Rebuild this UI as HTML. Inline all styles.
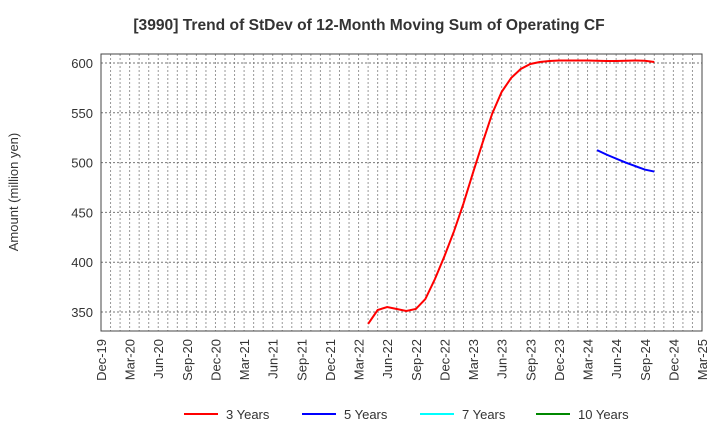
<!DOCTYPE html>
<html><head><meta charset="utf-8"><style>
body{margin:0;background:#fff;font-family:"Liberation Sans",sans-serif;}
</style></head><body>
<svg id="c" width="720" height="440" xmlns="http://www.w3.org/2000/svg" font-family="Liberation Sans, sans-serif">
<text x="369" y="30" text-anchor="middle" font-size="15.6" font-weight="bold" fill="#333">[3990]  Trend of StDev of 12-Month Moving Sum of Operating CF</text>
<text transform="translate(18,192) rotate(-90)" text-anchor="middle" font-size="13" fill="#333">Amount (million yen)</text>
<g id="grid"></g><g id="series"></g>
<rect x="101" y="54" width="601" height="277" fill="none" stroke="#444" stroke-width="1"/>
<g id="legend"></g>
</svg>
<script>
const xLabels=["Dec-19","Mar-20","Jun-20","Sep-20","Dec-20","Mar-21","Jun-21","Sep-21","Dec-21","Mar-22","Jun-22","Sep-22","Dec-22","Mar-23","Jun-23","Sep-23","Dec-23","Mar-24","Jun-24","Sep-24","Dec-24","Mar-25"];
const yTicks=[350,400,450,500,550,600];
const red3Start=28;
const red3=[338,352,355,353,351,353,363,383,406,431,459,490,520,549,571,585,594,599,601,602,602.5,602.5,602.5,602.5,602.3,602,602,602.3,602.5,602.3,601];
const blue5Start=52;
const blue5=[512.5,508,504,500,496.5,493,491];
const NS="http://www.w3.org/2000/svg";
const L=101,R=702,T=54,B=331,months=63;
const X=m=>L+(R-L)*m/months;
const Y=v=>63+(600-v)*0.996;
function mk(t,a,p){const e=document.createElementNS(NS,t);for(const k in a)e.setAttribute(k,a[k]);p.appendChild(e);return e;}
const g=document.getElementById('grid');
for(let m=1;m<months;m++){const l=mk('line',{x1:X(m),x2:X(m),y1:T,y2:B,stroke:'#999','stroke-dasharray':'2,2','stroke-width':1},g);

}
yTicks.forEach(v=>{const l=mk('line',{x1:L,x2:R,y1:Y(v),y2:Y(v),stroke:'#777','stroke-dasharray':'2,2','stroke-width':1},g);


const t=mk('text',{x:L-8,y:Y(v)+5,'text-anchor':'end','font-size':13,fill:'#333'},g);t.textContent=v;

});
xLabels.forEach((s,i)=>{const x=X(i*3);const t=mk('text',{transform:`translate(${x+5},${B+8}) rotate(-90)`,'text-anchor':'end','font-size':13,fill:'#333'},g);t.textContent=s;

});
const s=document.getElementById('series');
function line(arr,st,col,name){const p=mk('polyline',{points:arr.map((v,i)=>X(st+i)+','+Y(v)).join(' '),fill:'none',stroke:col,'stroke-width':2},s);

}
line(red3,red3Start,'#f00','series-3-years');
line(blue5,blue5Start,'#00f','series-5-years');
const lg=document.getElementById('legend');
[["3 Years","#f00",184],["5 Years","#00f",302],["7 Years","#0ff",420],["10 Years","#080",536]].forEach(([n,c,x])=>{
const gg=mk('g',{},lg);


mk('line',{x1:x,x2:x+34,y1:414,y2:414,stroke:c,'stroke-width':2},gg);
const t=mk('text',{x:x+42,y:419,'font-size':13,fill:'#333'},gg);t.textContent=n;});
</script>
</body></html>
